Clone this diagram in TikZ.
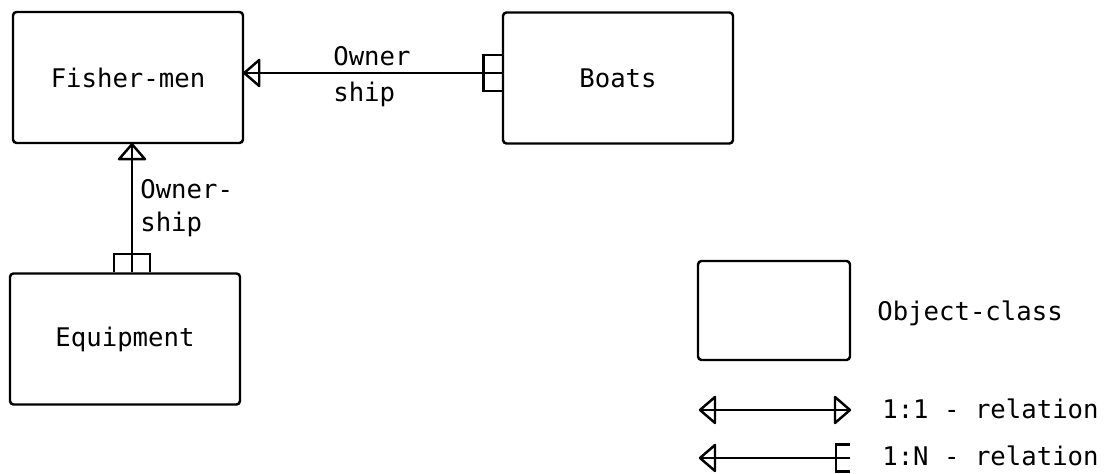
\documentclass[tikz,border=0pt]{standalone}
\usepackage{fontspec}
\newfontfamily\typefont{DejaVu Sans Mono}
\usetikzlibrary{positioning}
\tikzset{
  objbox/.style={draw, line width=1.4pt, rounded corners=2pt, minimum width=4.6cm, minimum height=2.62cm},
  lab/.style={font=\typefont\fontsize{14.6}{18.8}\selectfont, inner sep=0pt},
  rel/.style={line width=1.4pt},
  one/.pic={\draw[rel, line join=round] (0,0) -- (-0.3,0.26) -- (-0.3,-0.26) -- cycle;},
  many/.pic={\draw[rel] (0,0.36) -- (-0.37,0.36) -- (-0.37,-0.36) -- (0,-0.36);},
}

\begin{document}
\begin{tikzpicture}
  \useasboundingbox (0,0) rectangle (22.1,9.48);
  % object classes
  \node[objbox, lab] (fisher) at (2.56,7.93) {Fisher-men};
  \node[objbox, lab] (boats) at (12.36,7.92) {Boats};
  \node[objbox, lab] (equip) at (2.5,2.70) {Equipment};

  % ownership fisher-men -- boats
  \coordinate (fishR) at ([yshift=0.09cm]fisher.east);
  \coordinate (boatL) at (fishR -| boats.west);
  \draw[rel] (fishR) -- (boatL);
  \pic[rotate=180] at (fishR) {one};
  \pic at (boatL) {many};
  \node[lab, anchor=west, align=left] (ownh) at (6.66,7.95) {Owner\\[2pt]ship};

  % ownership fisher-men -- equipment
  \coordinate (fishB) at ([xshift=0.08cm]fisher.south);
  \coordinate (eqtop) at (fishB |- equip.north);
  \draw[rel] (fishB) -- (eqtop);
  \pic[rotate=90] at (fishB) {one};
  \pic[rotate=-90] at (eqtop) {many};
  \node[lab, anchor=west, align=left] (ownv) at (2.8,5.32) {Owner-\\ship};

  % legend
  \node[objbox, minimum width=3.04cm, minimum height=1.98cm] (legbox) at (15.48,3.27) {};
  \node[lab, anchor=west] (legobj) at (17.54,3.22) {Object-class};

  \coordinate (oneL) at (14.0,1.28);
  \coordinate (oneR) at (17.0,1.28);
  \draw[rel] (oneL) -- (oneR);
  \pic[rotate=180] at (oneL) {one};
  \pic at (oneR) {one};
  \node[lab, anchor=west] (legone) at (17.64,1.3) {1:1 - relation};

  \coordinate (manyL) at (14.0,0.32);
  \coordinate (manyR) at (17.0,0.32);
  \draw[rel] (manyL) -- (manyR);
  \pic[rotate=180] at (manyL) {one};
  \pic[scale=0.75] at (manyR) {many};
  \node[lab, anchor=west] (legmany) at (17.64,0.36) {1:N - relation};
\end{tikzpicture}
\end{document}
